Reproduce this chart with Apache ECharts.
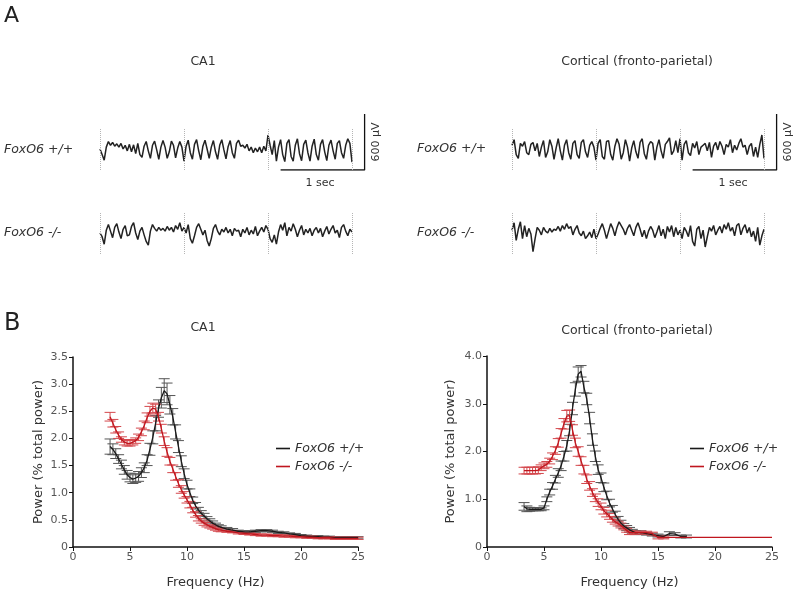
<!DOCTYPE html>
<html><head><meta charset="utf-8">
<script src="https://cdn.jsdelivr.net/npm/echarts@6/dist/echarts.min.js"></script>
<style>html,body{margin:0;padding:0;background:#fff}#c{width:797px;height:590px}</style>
</head><body><div id="c"></div>
<script>
// ---------- Panel A: EEG traces (µV, sampled every 25 ms over 3 s) ----------
const traceDt = 0.025;
const dividerTimes = [0, 1, 2, 3];
const scaleBarSec = 1;
const scaleBarUV = 600;

const ca1WT = [
  0,-60,-120,20,80,40,70,30,55,20,
  60,0,40,-20,50,-30,45,-50,60,-60,
  -90,30,80,-20,-100,40,85,-10,-110,20,
  90,20,-100,-30,85,40,-95,10,80,20,
  -130,30,95,-40,-110,50,100,-20,-115,30,
  95,0,-100,20,90,-30,-110,40,100,-10,
  -105,25,90,-40,-100,60,95,30,40,10,
  50,-20,20,-40,10,-30,20,-40,30,-20,
  150,40,-60,90,-130,20,100,-60,-135,60,
  100,-80,-130,40,110,-50,-125,50,95,-40,
  -130,30,105,-60,-120,50,100,-30,-125,40,
  95,-20,-110,60,90,-40,-100,40,110,60,
  -140];
const ca1KO = [
  0,-40,-120,30,90,20,-50,60,100,10,
  -60,40,80,-30,-20,70,110,0,-70,20,
  60,-20,-90,-130,20,90,50,20,60,30,
  50,20,70,30,60,10,80,40,110,20,
  60,0,90,-60,-110,-30,60,100,40,-20,
  30,-80,-140,-60,50,90,20,-20,40,10,
  60,0,40,-30,50,20,30,-40,40,0,
  60,-20,30,-10,70,-30,20,60,10,80,
  40,-60,-100,-20,-120,10,90,30,110,-30,
  60,20,100,40,-40,30,80,-20,40,0,
  50,-30,30,60,0,50,-40,20,70,-10,
  40,80,0,30,-50,60,90,20,-30,40,
  10];
const ctxWT = [
  40,100,-60,-100,60,30,80,-40,-60,50,
  70,-20,60,-80,20,90,-90,-30,100,30,
  -110,10,110,-20,-120,40,100,-40,-110,60,
  90,-60,-100,70,100,-30,-90,40,80,20,
  -120,60,100,-80,-110,80,90,-60,-120,30,
  110,50,-110,-40,100,20,-130,10,90,-30,
  -100,70,110,-50,-110,40,80,60,-120,20,
  100,-20,-100,50,80,120,-60,-20,90,-40,
  110,-120,50,90,-40,-70,60,10,80,-60,
  20,40,60,-20,70,-90,30,70,-10,80,
  30,-60,50,20,100,-40,40,-10,60,110,
  20,40,-60,30,60,-80,20,-90,50,150,
  -100];
const ctxKO = [
  30,110,-80,40,120,-60,80,-40,50,-10,
  -200,-60,60,30,-20,60,20,0,50,10,
  40,30,70,20,80,40,100,50,70,-20,
  40,80,0,-30,20,-60,-30,10,-50,40,
  -60,-10,50,100,30,-60,20,100,50,-30,
  60,120,80,40,-20,50,90,30,-30,60,
  110,40,-40,30,-60,20,70,30,-50,10,
  80,-30,40,-60,70,10,80,-40,60,-20,
  30,-60,60,20,-40,80,-90,-140,40,70,
  -60,30,-150,-40,60,20,80,-20,30,70,
  0,90,40,110,20,60,-30,80,100,-20,
  50,90,0,60,-40,20,-90,60,-130,-30,
  40];

// ---------- Panel B: power spectra (% total power, mean and SEM) ----------
const freqs = [
  3.25,3.5,3.75,4,4.25,4.5,4.75,5,5.25,5.5,5.75,6,6.25,6.5,6.75,7,7.25,7.5,7.75,8,
  8.25,8.5,8.75,9,9.25,9.5,9.75,10,10.25,10.5,10.75,11,11.25,11.5,11.75,12,12.25,12.5,12.75,13,
  13.5,14,14.5,15,15.5,16,16.5,17,17.5,18,18.5,19,19.5,20,20.5,21,21.5,22,22.5,23,23.5,24,24.5,25];

const ca1WTMean = [
  1.85,1.80,1.72,1.62,1.52,1.42,1.33,1.28,1.25,1.27,1.30,1.37,1.46,1.60,1.80,2.02,2.28,2.55,2.75,2.88,
  2.82,2.62,2.40,2.12,1.85,1.58,1.35,1.15,1.00,0.86,0.76,0.68,0.62,0.57,0.52,0.48,0.44,0.41,0.38,0.36,
  0.33,0.31,0.29,0.28,0.28,0.29,0.30,0.30,0.29,0.27,0.26,0.24,0.23,0.21,0.20,0.19,0.19,0.18,0.18,0.17,0.17,0.17,0.17,0.17];
const ca1WTSem = [
  0.14,0.10,0.09,0.08,0.08,0.08,0.08,0.08,0.08,0.08,0.09,0.09,0.09,0.10,0.11,0.12,0.14,0.16,0.19,0.22,
  0.20,0.17,0.15,0.13,0.11,0.10,0.09,0.08,0.07,0.06,0.06,0.05,0.05,0.05,0.04,0.04,0.04,0.03,0.03,0.03,
  0.03,0.03,0.02,0.02,0.02,0.02,0.02,0.02,0.02,0.02,0.02,0.02,0.02,0.02,0.02,0.02,0.02,0.02,0.02,0.02,0.02,0.02,0.02,0.02];
const ca1KOMean = [
  2.40,2.28,2.16,2.06,1.98,1.93,1.91,1.91,1.93,1.96,2.02,2.12,2.24,2.38,2.50,2.56,2.54,2.40,2.18,1.95,
  1.75,1.58,1.44,1.30,1.17,1.06,0.96,0.87,0.78,0.68,0.60,0.53,0.48,0.44,0.41,0.38,0.36,0.34,0.32,0.31,
  0.29,0.28,0.26,0.25,0.24,0.23,0.22,0.22,0.21,0.21,0.20,0.20,0.19,0.19,0.18,0.18,0.17,0.17,0.17,0.16,0.16,0.16,0.16,0.16];
const ca1KOSem = [
  0.08,0.07,0.06,0.06,0.05,0.05,0.05,0.05,0.05,0.05,0.06,0.07,0.08,0.09,0.09,0.09,0.09,0.08,0.08,0.08,
  0.08,0.07,0.07,0.07,0.07,0.07,0.06,0.06,0.06,0.05,0.05,0.05,0.04,0.04,0.04,0.03,0.03,0.03,0.03,0.03,
  0.02,0.02,0.02,0.02,0.02,0.02,0.02,0.02,0.02,0.02,0.02,0.02,0.02,0.02,0.02,0.02,0.02,0.02,0.02,0.02,0.02,0.02,0.02,0.02];

const ctxWTMean = [
  0.85,0.80,0.79,0.79,0.79,0.79,0.79,0.82,1.00,1.15,1.28,1.42,1.55,1.70,1.90,2.12,2.45,2.90,3.30,3.62,
  3.68,3.35,3.10,2.70,2.25,1.90,1.62,1.45,1.25,1.08,0.92,0.80,0.68,0.58,0.50,0.44,0.40,0.36,0.33,0.30,
  0.30,0.28,0.26,0.24,0.22,0.28,0.27,0.22,0.22,null,null,null,null,null,null,null,null,null,null,null,null,null,null,null];
const ctxWTSem = [
  0.08,0.06,0.04,0.03,0.03,0.03,0.03,0.04,0.05,0.06,0.07,0.08,0.09,0.10,0.10,0.11,0.12,0.13,0.14,0.15,
  0.12,0.12,0.12,0.12,0.12,0.11,0.10,0.10,0.09,0.09,0.08,0.07,0.07,0.06,0.06,0.05,0.05,0.05,0.04,0.04,
  0.04,0.03,0.03,0.03,0.03,0.04,0.03,0.03,0.03,null,null,null,null,null,null,null,null,null,null,null,null,null,null,null];
const ctxKOMean = [
  1.60,1.60,1.60,1.60,1.60,1.61,1.66,1.70,1.73,1.80,1.90,2.02,2.18,2.38,2.58,2.74,2.75,2.45,2.18,2.00,
  1.80,1.62,1.42,1.28,1.14,1.03,0.93,0.85,0.76,0.70,0.64,0.58,0.53,0.49,0.45,0.40,0.35,0.30,0.30,0.30,
  0.30,0.30,0.28,0.20,0.20,0.20,0.20,0.20,0.20,0.20,0.20,0.20,0.20,0.20,0.20,0.20,0.20,0.20,0.20,0.20,0.20,0.20,0.20,0.20];
const ctxKOSem = [
  0.07,0.07,0.07,0.07,0.07,0.07,0.06,0.06,0.06,0.06,0.07,0.08,0.09,0.10,0.11,0.12,0.12,0.11,0.10,0.10,
  0.09,0.09,0.09,0.09,0.08,0.08,0.08,0.07,0.07,0.07,0.06,0.06,0.05,0.05,0.05,0.04,0.04,0.04,0.03,0.03,
  0.03,0.03,0.03,0.03,0.03,0,0,0,0,0,0,0,0,0,0,0,0,0,0,0,0,0,0,0];

const names = ['FoxO6 +/+', 'FoxO6 -/-'];
const yTicksCA1 = {min: 0, max: 3.5, interval: 0.5};
const yTicksCtx = {min: 0, max: 4, interval: 1};
const xTicks = {min: 0, max: 25, interval: 5};

// ---------- styles ----------
const FONT = "'DejaVu Sans', Verdana, sans-serif";
const BLACK = '#1a1a1a', BLACK_ERR = '#555555';
const RED = '#c0161e', RED_ERR = '#d4474c';
const TRACE_MIN = -225, TRACE_MAX = 375, TRACE_XMAX = 3.2, BAR_X = 3.15;

const chart = echarts.init(document.getElementById('c'), null, {renderer: 'canvas'});

function tracePoints(arr) { return arr.map((v, i) => [+(i * traceDt).toFixed(3), v]); }

const traceGrids = [
  {left: 100, top: 114, width: 268.8, height: 56},
  {left: 100, top: 198, width: 268.8, height: 56},
  {left: 512, top: 114, width: 268.8, height: 56},
  {left: 512, top: 198, width: 268.8, height: 56}
];
const grids = traceGrids.concat([
  {left: 73, top: 357, width: 285, height: 190},
  {left: 487, top: 356, width: 285, height: 191}
]);

const xAxes = [], yAxes = [];
for (let i = 0; i < 4; i++) {
  xAxes.push({gridIndex: i, type: 'value', min: 0, max: TRACE_XMAX, show: false});
  yAxes.push({gridIndex: i, type: 'value', min: TRACE_MIN, max: TRACE_MAX, show: false});
}
function specX(gi) {
  return {gridIndex: gi, type: 'value', min: xTicks.min, max: xTicks.max, interval: xTicks.interval,
    name: 'Frequency (Hz)', nameLocation: 'middle', nameGap: 29,
    nameTextStyle: {fontFamily: FONT, fontSize: 13, color: '#333'},
    axisLine: {show: true, onZero: false, lineStyle: {color: '#111', width: 1.5}},
    axisTick: {show: true, length: 4, lineStyle: {color: '#111', width: 1}},
    axisLabel: {fontFamily: FONT, fontSize: 11, color: '#555', margin: 5},
    splitLine: {show: false}};
}
function specY(gi, t, gap) {
  return {gridIndex: gi, type: 'value', min: t.min, max: t.max, interval: t.interval,
    name: 'Power (% total power)', nameLocation: 'middle', nameGap: gap, nameRotate: 90,
    nameTextStyle: {fontFamily: FONT, fontSize: 13, color: '#333'},
    axisLine: {show: true, lineStyle: {color: '#111', width: 1.5}},
    axisTick: {show: true, length: 4, lineStyle: {color: '#111', width: 1}},
    axisLabel: {fontFamily: FONT, fontSize: 11, color: '#555', margin: 5,
      formatter: v => v === 0 ? '0' : v.toFixed(1)},
    splitLine: {show: false}};
}
xAxes.push(specX(4), specX(5));
yAxes.push(specY(4, yTicksCA1, 28), specY(5, yTicksCtx, 30));

const series = [];
[ca1WT, ca1KO, ctxWT, ctxKO].forEach((arr, i) => {
  series.push({
    type: 'line', name: 'trace' + i, xAxisIndex: i, yAxisIndex: i,
    data: tracePoints(arr), symbol: 'none', silent: true,
    lineStyle: {color: '#222', width: 1.5},
    markLine: {silent: true, symbol: ['none', 'none'], label: {show: false},
      lineStyle: {type: 'dotted', color: '#b5b5b5', width: 1},
      data: dividerTimes.map(t => [{coord: [t, -225]}, {coord: [t, 225]}])}
  });
});
[0, 2].forEach(gi => {
  series.push({
    type: 'line', name: 'scale' + gi, xAxisIndex: gi, yAxisIndex: gi, symbol: 'none', silent: true,
    data: [[BAR_X - scaleBarSec, TRACE_MIN], [BAR_X, TRACE_MIN], [BAR_X, TRACE_MIN + scaleBarUV]],
    lineStyle: {color: '#111', width: 1.3}
  });
});

function errSeries(gi, means, sems, color) {
  const data = [];
  freqs.forEach((f, i) => { if (means[i] != null && sems[i]) data.push([f, means[i], sems[i]]); });
  return {
    type: 'custom', xAxisIndex: gi, yAxisIndex: gi, silent: true, z: 2,
    data, encode: {x: 0, y: 1},
    renderItem: (params, api) => {
      const x = api.value(0), m = api.value(1), s = api.value(2);
      const top = api.coord([x, m + s]), bot = api.coord([x, m - s]);
      const hw = 5.5, st = {stroke: color, lineWidth: 1};
      return {type: 'group', children: [
        {type: 'line', shape: {x1: top[0], y1: top[1], x2: bot[0], y2: bot[1]}, style: st},
        {type: 'line', shape: {x1: top[0] - hw, y1: top[1], x2: top[0] + hw, y2: top[1]}, style: st},
        {type: 'line', shape: {x1: bot[0] - hw, y1: bot[1], x2: bot[0] + hw, y2: bot[1]}, style: st}
      ]};
    }
  };
}
function meanSeries(gi, name, means, color) {
  return {type: 'line', name, xAxisIndex: gi, yAxisIndex: gi, symbol: 'none', z: 3, clip: false,
    color, lineStyle: {color, width: 1.3},
    data: freqs.map((f, i) => [f, means[i]])};
}
series.push(errSeries(4, ca1WTMean, ca1WTSem, BLACK_ERR), meanSeries(4, names[0], ca1WTMean, BLACK));
series.push(errSeries(4, ca1KOMean, ca1KOSem, RED_ERR), meanSeries(4, names[1], ca1KOMean, RED));
series.push(errSeries(5, ctxWTMean, ctxWTSem, BLACK_ERR), meanSeries(5, names[0], ctxWTMean, BLACK));
series.push(errSeries(5, ctxKOMean, ctxKOSem, RED_ERR), meanSeries(5, names[1], ctxKOMean, RED));

function legendAt(left) {
  return {left, top: 436, orient: 'vertical', data: names, selectedMode: false,
    icon: 'rect', itemWidth: 14, itemHeight: 1.6, itemGap: 3,
    textStyle: {fontFamily: FONT, fontSize: 12.5, fontStyle: 'italic', color: '#333', lineHeight: 15}};
}

function txt(x, y, text, o) {
  o = o || {};
  return {type: 'text', x, y, rotation: o.rot || 0, silent: true,
    style: {text, fontFamily: FONT, fontSize: o.size || 12.5, fontStyle: o.italic ? 'italic' : 'normal',
      fill: o.color || '#333', align: o.align || 'center', verticalAlign: 'middle'}};
}
const graphics = [
  txt(4, 16, 'A', {size: 22, align: 'left', color: '#222'}),
  txt(203, 62, 'CA1'),
  txt(637, 62, 'Cortical (fronto-parietal)'),
  txt(4, 150, names[0], {italic: true, align: 'left'}),
  txt(4, 233, names[1], {italic: true, align: 'left'}),
  txt(417, 149, names[0], {italic: true, align: 'left'}),
  txt(417, 233, names[1], {italic: true, align: 'left'}),
  txt(376, 142, '600 μV', {size: 11, rot: Math.PI / 2}),
  txt(788, 142, '600 μV', {size: 11, rot: Math.PI / 2}),
  txt(320, 183, '1 sec', {size: 11}),
  txt(733, 183, '1 sec', {size: 11}),
  txt(4, 324, 'B', {size: 24, align: 'left', color: '#222'}),
  txt(203, 328, 'CA1'),
  txt(637, 331, 'Cortical (fronto-parietal)')
];

chart.setOption({
  animation: false,
  backgroundColor: '#fff',
  grid: grids,
  xAxis: xAxes,
  yAxis: yAxes,
  legend: [legendAt(271), legendAt(685)],
  graphic: graphics,
  series
});
</script></body></html>
